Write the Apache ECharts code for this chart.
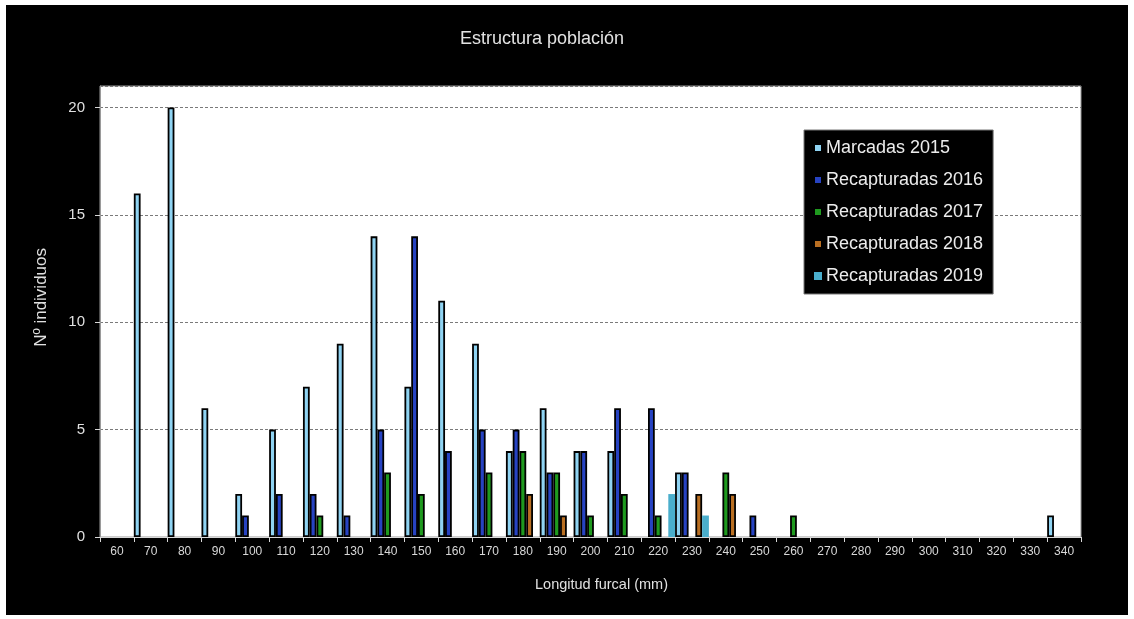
<!DOCTYPE html>
<html>
<head>
<meta charset="utf-8">
<script src="https://cdn.jsdelivr.net/npm/echarts@6/dist/echarts.min.js"></script>
<style>
html,body{margin:0;padding:0;background:#fff;width:1134px;height:619px;overflow:hidden;}
#chart{position:absolute;left:6px;top:5px;width:1122px;height:610px;}
</style>
</head>
<body>
<div id="chart"></div>
<script>
// ---- data ----
var categories = ['60','70','80','90','100','110','120','130','140','150','160','170','180','190','200','210','220','230','240','250','260','270','280','290','300','310','320','330','340'];
var marcadas2015     = [0,16,20,6,2,5,7,9,14,7,11,9,4,6,4,4,0,3,0,0,0,0,0,0,0,0,0,0,1];
var recapturadas2016 = [0,0,0,0,1,2,2,1,5,14,4,5,5,3,4,6,6,3,0,1,0,0,0,0,0,0,0,0,0];
var recapturadas2017 = [0,0,0,0,0,0,1,0,3,2,0,3,4,3,1,2,1,0,3,0,1,0,0,0,0,0,0,0,0];
var recapturadas2018 = [0,0,0,0,0,0,0,0,0,0,0,0,2,1,0,0,0,2,2,0,0,0,0,0,0,0,0,0,0];
var recapturadas2019 = [0,0,0,0,0,0,0,0,0,0,0,0,0,0,0,0,2,1,0,0,0,0,0,0,0,0,0,0,0];
var seriesNames = ['Marcadas 2015','Recapturadas 2016','Recapturadas 2017','Recapturadas 2018','Recapturadas 2019'];
var yTicks = [0,5,10,15,20];

var FONT = '"Liberation Sans", Arial, sans-serif';
var colors = ['#8fd3f2','#2743c2','#1f9a1f','#b96f22','#4aaecc'];
var bordered = [true,true,true,true,false];
var allData = [marcadas2015,recapturadas2016,recapturadas2017,recapturadas2018,recapturadas2019];

function clean(arr){ return arr.map(function(v){ return v === 0 ? '-' : v; }); }

var series = allData.map(function(d,i){
  return {
    name: seriesNames[i],
    type: 'bar',
    data: clean(d),
    barGap: '0%',
    barCategoryGap: '0%',
    itemStyle: {
      color: colors[i],
      borderColor: bordered[i] ? '#000' : colors[i],
      borderWidth: bordered[i] ? 1.8 : 0
    }
  };
});

var chart = echarts.init(document.getElementById('chart'), null, {renderer:'canvas'});
chart.setOption({
  backgroundColor: '#000',
  animation: false,
  title: {
    text: 'Estructura población',
    left: 454, top: 25, padding: 0,
    textStyle: {color:'#e2e2e2', fontFamily: FONT, fontSize: 18, fontWeight: 'normal'}
  },
  legend: {
    orient: 'vertical',
    left: 798, top: 125,
    padding: [8, 10, 8, 9],
    itemGap: 12,
    itemWidth: 8, itemHeight: 8,
    icon: 'rect',
    backgroundColor: '#000',
    borderColor: '#777', borderWidth: 1,
    textStyle: {color:'#ececec', fontFamily: FONT, fontSize: 18, lineHeight: 20, padding:[0,0,0,-1]},
    data: seriesNames
  },
  grid: {
    left: 94, top: 81, right: 47, bottom: 78,
    show: true, backgroundColor: '#fff', borderColor: '#9a9a9a', borderWidth: 1
  },
  xAxis: {
    type: 'category',
    data: categories,
    boundaryGap: true,
    axisLine: {show: true, lineStyle: {color:'#d8d8d8', width: 1}},
    axisTick: {show: true, alignWithLabel: false, length: 5, lineStyle: {color:'#d8d8d8'}},
    axisLabel: {color:'#d8d8d8', fontFamily: FONT, fontSize: 12, margin: 9, interval: 0}
  },
  yAxis: {
    type: 'value',
    min: 0, max: 21, interval: 5,
    axisLine: {show: true, lineStyle: {color:'#9a9a9a'}},
    axisTick: {show: true, length: 5, lineStyle: {color:'#d8d8d8'}},
    axisLabel: {color:'#e0e0e0', fontFamily: FONT, fontSize: 15, margin: 15, showMaxLabel: false,
      formatter: function(v){ return yTicks.indexOf(v) >= 0 ? String(v) : ''; }},
    splitLine: {show: true, lineStyle: {color:'#7a7a7a', type: [3,2], width: 1}}
  },
  graphic: [
    {type:'text', left: 27, top: 243, rotation: Math.PI/2,
     style:{text:'Nº individuos', fill:'#e0e0e0', font: '17px "Liberation Sans", Arial, sans-serif'}},
    {type:'text', left: 529, top: 572,
     style:{text:'Longitud furcal (mm)', fill:'#e0e0e0', font: '14.5px "Liberation Sans", Arial, sans-serif'}}
  ],
  series: series
});
</script>
</body>
</html>
